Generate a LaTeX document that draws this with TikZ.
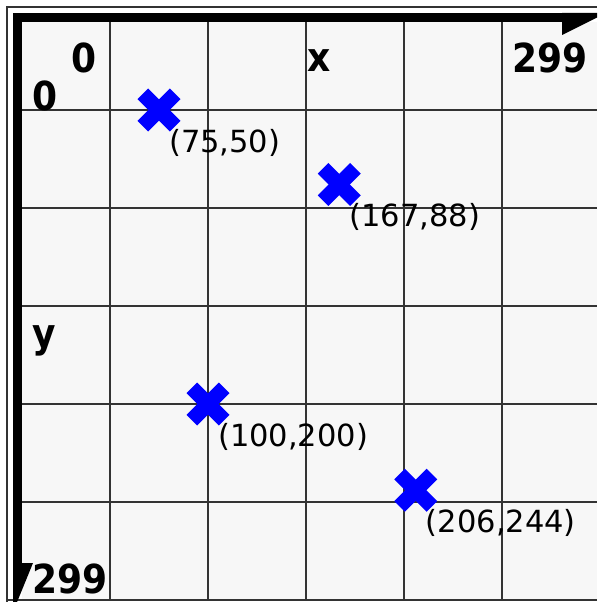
\documentclass[tikz,border=0pt]{standalone}
\usepackage{fontspec}

\newfontfamily\axisfont[FakeStretch=0.9]{DejaVu Sans}
\newfontfamily\ptfont{DejaVu Sans}
\definecolor{gridbg}{HTML}{F7F7F7}
\definecolor{gridln}{HTML}{333333}

\begin{document}
\begin{tikzpicture}[
    x=1pt, y=-1pt,
    % axis labels (0, x, y, 299)
    axlabel/.style={
        inner sep=0pt, anchor=base,
        font=\axisfont\bfseries\fontsize{40}{40}\selectfont
    },
    % invisible node at a point
    ptnode/.style={inner sep=0pt, minimum size=42pt},
    % one bar of the blue cross
    xbar/.style={blue, line width=15pt},
    % coordinate text beside a cross
    ptlabel/.style={
        inner sep=0pt, anchor=north west,
        font=\ptfont\fontsize{30.5}{30.5}\selectfont
    },
    % lines
    frame/.style={gridln, line width=2pt},
    gridl/.style={gridln, line width=2pt},
    axisbar/.style={fill=black},
]

\useasboundingbox (0,0) rectangle (597,602);
\clip (0,0) rectangle (597,602);

%% -- background and frame --------------------------------
\fill[white] (0,0) rectangle (597,602);
\fill[gridbg] (22,22) rectangle (597,600);
\draw[frame] (7,602) -- (7,7) -- (597,7);
\draw[frame] (7,600) -- (597,600);

%% -- grid (every 50 units = 98px) -------------------------
\foreach \g in {110, 208, 306, 404, 502}{
    \draw[gridl] (\g,22) -- (\g,600);
    \draw[gridl] (22,\g) -- (597,\g);
}

%% -- axes with half arrow heads ---------------------------
\fill[axisbar] (13,13) rectangle (562,22);
\fill[axisbar] (562,13) -- (562,35) -- (606,13) -- cycle;
\fill[axisbar] (13,13) rectangle (22,563);
\fill[axisbar] (13,563) -- (33,563) -- (13,612) -- cycle;

%% -- axis labels ------------------------------------------
\node[axlabel] (x0)   at (84,72)  {0};
\node[axlabel] (xend) at (550,73) {299};
\node[axlabel] (xnm)  at (319,71) {x};
\node[axlabel] (y0)   at (45,110) {0};
\node[axlabel] (ynm)  at (44,347) {y};
\node[axlabel] (yend) at (70,593) {299};

%% -- points: pixel = 12 + 1.96 * value --------------------
\def\s{1.96}
\def\o{12}
\def\d{16.2}  % half arm of the cross, per axis
\foreach \n/\u/\v in {p1/75/50, p2/167/88, p3/100/200, p4/206/244}{
    \node[ptnode] (\n) at ({\o+\s*\u},{\o+\s*\v}) {};
    \draw[xbar] ([shift={(-\d,-\d)}]\n.center) -- ([shift={(\d,\d)}]\n.center);
    \draw[xbar] ([shift={(-\d,\d)}]\n.center) -- ([shift={(\d,-\d)}]\n.center);
    \node[ptlabel] (l\n) at ([shift={(10,19)}]\n.center) {(\u,\v)};
}

\end{tikzpicture}
\end{document}
